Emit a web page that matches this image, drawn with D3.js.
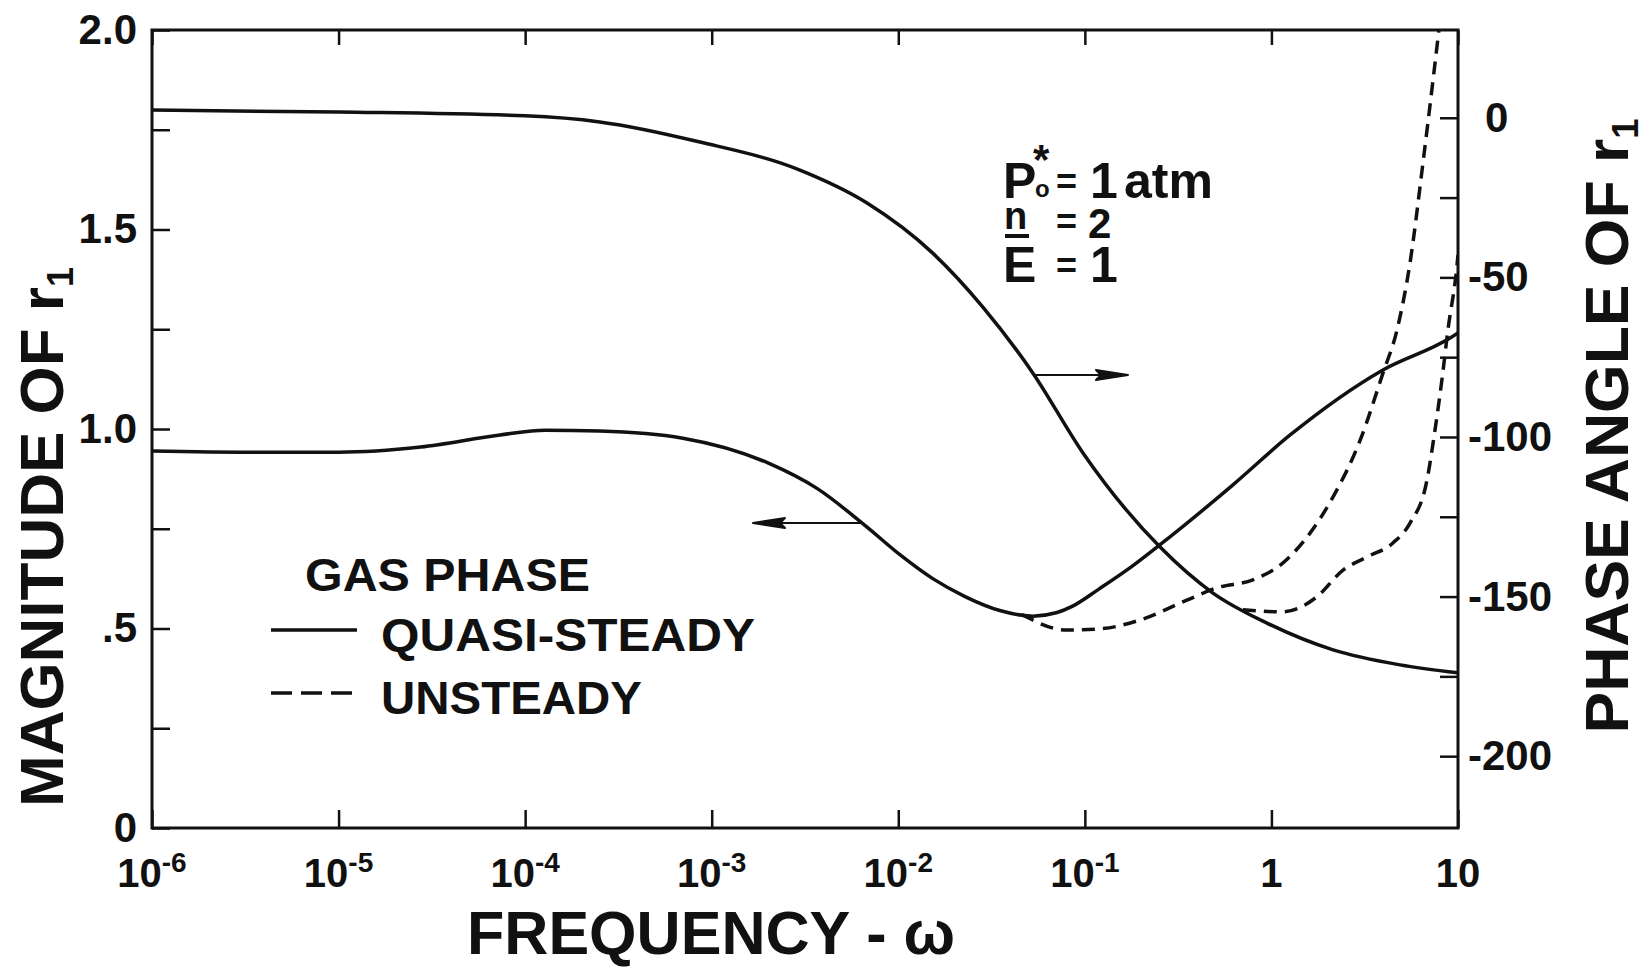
<!DOCTYPE html>
<html>
<head>
<meta charset="utf-8">
<script src="https://cdn.jsdelivr.net/npm/d3@7"></script>
<style>
  body { margin: 0; background: #fff; }
  text { font-family: "Liberation Sans", Arial, sans-serif; font-weight: bold; fill: #111; }
</style>
</head>
<body>
<svg id="chart"></svg>
<script>
// --- données ---
const decades = [1e-6, 1e-5, 1e-4, 1e-3, 1e-2, 1e-1, 1, 10];
const decadeBase = ["10", "10", "10", "10", "10", "10", "1", "10"];
const decadeExp = ["-6", "-5", "-4", "-3", "-2", "-1", "", ""];

const magTicks = [0, 0.25, 0.5, 0.75, 1, 1.25, 1.5, 1.75, 2];
const magTickLabels = ["0", "", ".5", "", "1.0", "", "1.5", "", "2.0"];

const phaseTicks = [-200, -175, -150, -125, -100, -75, -50, -25, 0];
const phaseTickLabels = ["-200", "", "-150", "", "-100", "", "-50", "", "0"];

// magnitude, quasi-steady (axe gauche)
const magQsW = [1e-6, 3.35e-6, 1e-5, 2.75e-5, 7.33e-5, 1.28e-4, 2.51e-4, 7.0e-4, 2.0e-3, 3.7e-3,
                6.8e-3, 1.02e-2, 1.53e-2, 2.28e-2, 3.5e-2, 5.27e-2, 7.1e-2, 8.6e-2, 0.12, 0.178,
                0.253, 0.622, 1.26, 3.96, 9.06, 10];
const magQsV = [0.945, 0.942, 0.942, 0.955, 0.985, 0.997, 0.995, 0.977, 0.915, 0.85,
                0.754, 0.685, 0.625, 0.58, 0.545, 0.531, 0.540, 0.556, 0.600, 0.655,
                0.71, 0.86, 0.985, 1.148, 1.228, 1.241];

// magnitude, unsteady
const magUnW = [4.6e-2, 8.0e-2, 0.12, 0.197, 0.352, 0.51, 0.796, 1.15, 1.61, 2.14, 2.99, 3.96, 4.71, 5.53, 6.49, 7.35, 7.9];
const magUnV = [0.535, 0.496, 0.499, 0.521, 0.571, 0.602, 0.622, 0.664, 0.739, 0.830, 0.972, 1.140, 1.248, 1.416, 1.667, 1.875, 2.0];

// phase, quasi-steady (axe droit, degrés)
const phQsW = [1e-6, 1e-5, 1e-4, 2.51e-4, 8.65e-4, 2.97e-3, 6.8e-3, 1.53e-2, 2.84e-2, 5.27e-2,
               9.77e-2, 0.253, 0.486, 0.946, 2.14, 4.89, 10];
const phQsV = [2.4, 1.8, 0.6, -1.3, -7.6, -16.4, -26.7, -42.4, -59.3, -80.0,
               -105.0, -134.5, -148.9, -158.3, -166.7, -171.4, -173.9];

// phase, unsteady
const phUnW = [0.703, 1.15, 1.75, 2.42, 3.25, 4.48, 5.53, 6.82, 7.53, 8.2, 8.83, 9.86, 10];
const phUnV = [-154.1, -154.8, -150.1, -141.7, -137.6, -133.2, -127.0, -113.5, -97.8, -82.1, -66.5, -46.7, -43.0];

// --- mise en page ---
const width = 1645, height = 971;
const plot = { left: 152, right: 1458, top: 30, bottom: 828 };

const svg = d3.select("#chart").attr("width", width).attr("height", height);

const x = d3.scaleLog().domain([1e-6, 10]).range([plot.left, plot.right]);
const yMag = d3.scaleLinear().domain([0, 2]).range([plot.bottom, plot.top]);
const yPhase = d3.scaleLinear().domain([-222.5, 27.5]).range([plot.bottom, plot.top]);

svg.append("clipPath").attr("id", "clip")
  .append("rect")
  .attr("x", plot.left).attr("y", plot.top)
  .attr("width", plot.right - plot.left).attr("height", plot.bottom - plot.top);

// axes (graduations vers l'intérieur)
function styleAxis(g) {
  g.select(".domain").remove();
  g.selectAll(".tick line").attr("stroke", "#111").attr("stroke-width", 2.5);
  g.selectAll(".tick text").attr("font-size", 42).attr("fill", "#111")
    .style("font-family", '"Liberation Sans", Arial, sans-serif').style("font-weight", "bold");
}

svg.append("g")
  .attr("transform", `translate(${plot.left},0)`)
  .call(d3.axisLeft(yMag).tickValues(magTicks).tickSize(-18).tickPadding(15)
    .tickFormat((d, i) => magTickLabels[i]))
  .call(styleAxis);

svg.append("g")
  .attr("transform", `translate(${plot.right},0)`)
  .call(d3.axisRight(yPhase).tickValues(phaseTicks).tickSize(-18).tickPadding(10)
    .tickFormat((d, i) => phaseTickLabels[i]))
  .call(styleAxis)
  .call(g => g.selectAll(".tick text").attr("dx", d => d >= 0 ? 17 : 0));

svg.append("g")
  .attr("transform", `translate(0,${plot.bottom})`)
  .call(d3.axisBottom(x).tickValues(decades).tickSize(-18).tickFormat(""))
  .call(styleAxis);

svg.append("g")
  .attr("transform", `translate(0,${plot.top})`)
  .call(d3.axisTop(x).tickValues(decades).tickSize(-15).tickFormat(""))
  .call(styleAxis);

// cadre
svg.append("rect")
  .attr("x", plot.left).attr("y", plot.top)
  .attr("width", plot.right - plot.left).attr("height", plot.bottom - plot.top)
  .attr("fill", "none").attr("stroke", "#111").attr("stroke-width", 3);

// étiquettes des décades
const xl = svg.append("g").selectAll("text")
  .data(decades).enter().append("text")
  .attr("x", d => x(d))
  .attr("y", 887)
  .attr("text-anchor", "middle")
  .attr("font-size", 40);
xl.append("tspan").text((d, i) => decadeBase[i]);
xl.append("tspan")
  .attr("dy", -15).attr("font-size", 28)
  .text((d, i) => decadeExp[i]);

// courbes
const lineMag = d3.line().x(d => x(d[0])).y(d => yMag(d[1])).curve(d3.curveMonotoneX);
const linePhase = d3.line().x(d => x(d[0])).y(d => yPhase(d[1])).curve(d3.curveMonotoneX);

const curves = svg.append("g").attr("clip-path", "url(#clip)")
  .attr("fill", "none").attr("stroke", "#111").attr("stroke-width", 3.5)
  .attr("stroke-linejoin", "round");

curves.append("path").attr("d", lineMag(d3.zip(magQsW, magQsV)));
curves.append("path").attr("d", linePhase(d3.zip(phQsW, phQsV)));
curves.append("path").attr("d", lineMag(d3.zip(magUnW, magUnV))).attr("stroke-dasharray", "13,8");
curves.append("path").attr("d", linePhase(d3.zip(phUnW, phUnV))).attr("stroke-dasharray", "13,8");

// flèches (quelle courbe -> quel axe)
function arrow(x1, x2, y, dir) {
  const g = svg.append("g").attr("stroke", "#111").attr("fill", "#111");
  g.append("line").attr("x1", x1).attr("x2", x2 - dir * 28).attr("y1", y).attr("y2", y)
    .attr("stroke-width", 2);
  g.append("path")
    .attr("d", `M${x2},${y} L${x2 - dir * 32},${y - 5} L${x2 - dir * 27},${y} L${x2 - dir * 32},${y + 5} Z`)
    .attr("stroke-width", 2).attr("stroke-linejoin", "round");
}
arrow(1033, 1128, 375, 1);
arrow(863, 753, 523, -1);

// paramètres
const ann = svg.append("g");
const l1 = ann.append("text").attr("y", 198).attr("font-size", 50);
l1.append("tspan").attr("x", 1003).text("P");
l1.append("tspan").attr("x", 1035).attr("y", 197).attr("font-size", 24).text("o");
l1.append("tspan").attr("x", 1033).attr("y", 174).attr("font-size", 42).text("*");
l1.append("tspan").attr("x", 1056).attr("y", 194).attr("font-size", 36).text("=");
l1.append("tspan").attr("x", 1090).attr("y", 198).text("1");
l1.append("tspan").attr("x", 1124).text("atm");

const l2 = ann.append("text").attr("y", 238).attr("font-size", 42);
l2.append("tspan").attr("x", 1004).attr("y", 229).attr("font-size", 38).text("n");
l2.append("tspan").attr("x", 1056).attr("y", 234).attr("font-size", 36).text("=");
l2.append("tspan").attr("x", 1088).attr("y", 238).text("2");
ann.append("line").attr("x1", 1005).attr("x2", 1029).attr("y1", 236).attr("y2", 236)
  .attr("stroke", "#111").attr("stroke-width", 4);

const l3 = ann.append("text").attr("y", 282).attr("font-size", 50);
l3.append("tspan").attr("x", 1003).text("E");
l3.append("tspan").attr("x", 1056).attr("y", 278).attr("font-size", 36).text("=");
l3.append("tspan").attr("x", 1090).attr("y", 282).text("1");

// légende
const leg = svg.append("g").attr("font-size", 46);
leg.append("text").attr("x", 305).attr("y", 591)
  .attr("textLength", 285).attr("lengthAdjust", "spacingAndGlyphs").text("GAS PHASE");
leg.append("text").attr("x", 381).attr("y", 651)
  .attr("textLength", 374).attr("lengthAdjust", "spacingAndGlyphs").text("QUASI-STEADY");
leg.append("text").attr("x", 381).attr("y", 714)
  .attr("textLength", 261).attr("lengthAdjust", "spacingAndGlyphs").text("UNSTEADY");
leg.append("line").attr("x1", 271).attr("x2", 357).attr("y1", 630).attr("y2", 630)
  .attr("stroke", "#111").attr("stroke-width", 3.5);
leg.append("line").attr("x1", 271).attr("x2", 355).attr("y1", 693).attr("y2", 693)
  .attr("stroke", "#111").attr("stroke-width", 3.5).attr("stroke-dasharray", "21,9");

// titres des axes
const tLeft = svg.append("text")
  .attr("transform", "translate(63,537) rotate(-90)")
  .attr("text-anchor", "middle").attr("font-size", 62)
  .attr("textLength", 540).attr("lengthAdjust", "spacingAndGlyphs")
  .text("MAGNITUDE OF r");
tLeft.append("tspan").attr("dy", 10).attr("font-size", 36).text("1");

const tRight = svg.append("text")
  .attr("transform", "translate(1628,426) rotate(-90)")
  .attr("text-anchor", "middle").attr("font-size", 62)
  .attr("textLength", 615).attr("lengthAdjust", "spacingAndGlyphs")
  .text("PHASE ANGLE OF r");
tRight.append("tspan").attr("dy", 10).attr("font-size", 36).text("1");

svg.append("text")
  .attr("x", 711).attr("y", 954)
  .attr("text-anchor", "middle").attr("font-size", 62)
  .attr("textLength", 488).attr("lengthAdjust", "spacingAndGlyphs")
  .text("FREQUENCY - ω");
</script>
</body>
</html>
